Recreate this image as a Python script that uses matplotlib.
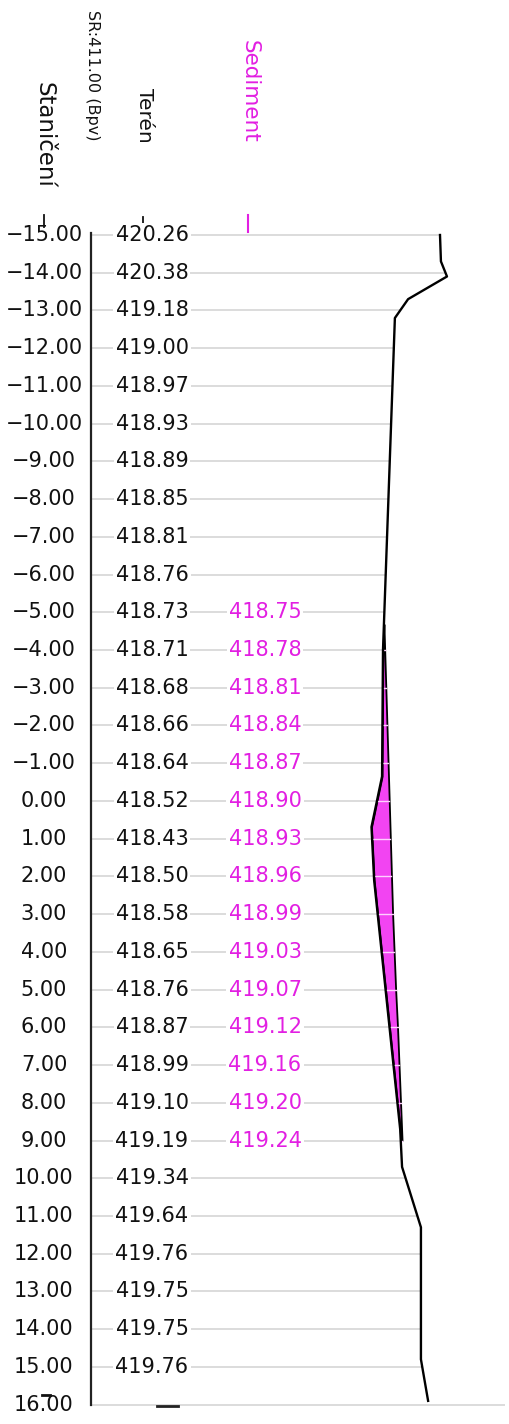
import numpy as np
import matplotlib
matplotlib.use("Agg")
import matplotlib.pyplot as plt
from matplotlib import font_manager

# ---------------- data ----------------
stations = list(range(-15, 17))
terrain_labels = [420.26, 420.38, 419.18, 419.00, 418.97, 418.93, 418.89, 418.85,
                  418.81, 418.76, 418.73, 418.71, 418.68, 418.66, 418.64, 418.52,
                  418.43, 418.50, 418.58, 418.65, 418.76, 418.87, 418.99, 419.10,
                  419.19, 419.34, 419.64, 419.76, 419.75, 419.75, 419.76]  # -15 .. 15

# detailed terrain profile (station, elevation)
profile_station = [-15.0, -14.3, -13.9, -13.3, -12.8, -4.0, -0.65, 0.69, 2.1, 8.7,
                   9.7, 11.3, 14.8, 15.9]
profile_elev = [420.245, 420.27, 420.43, 419.40, 419.05, 418.735, 418.71, 418.43,
                418.50, 419.19, 419.24, 419.74, 419.74, 419.93]

sed_stations = list(range(-5, 10))
sed_elev = [418.75, 418.78, 418.81, 418.84, 418.87, 418.90, 418.93, 418.96,
            418.99, 419.03, 419.07, 419.12, 419.16, 419.20, 419.24]

datum = 411.00
header_station = "Staničení"
header_datum = "SR:411.00 (Bpv)"
header_terrain = "Terén"
header_sed = "Sediment"

# ---------------- layout helpers (pixel -> data) ----------------
W, H = 509, 1424
PX_X0, SX = 91.0, 37.75     # pixel of datum, pixels per metre
PX_Y0, SY = 235.0, 37.73    # pixel of station -15, pixels per station unit


def px_x(p):
    return datum + (p - PX_X0) / SX


def px_y(p):
    return -15 + (p - PX_Y0) / SY


MAG_FILL = "#f244f2"
MAG_TEXT = "#e21fe2"
GRID = "#d9d9d9"

names = {f.name for f in font_manager.fontManager.ttflist}
if "Liberation Sans Narrow" in names:
    sr_family, sr_size = "Liberation Sans Narrow", 15
else:
    sr_family, sr_size = "DejaVu Sans", 11.5

fig = plt.figure(figsize=(W / 100, H / 100), dpi=100)
ax = fig.add_axes([0, 0, 1, 1])
ax.set_xlim(px_x(0), px_x(W))
ax.set_ylim(px_y(H), px_y(0))
ax.axis("off")

ps = np.array(profile_station)
pe = np.array(profile_elev)

# grid lines from datum to terrain (or sediment surface)
for s in stations:
    if s == 16:
        xend = px_x(505)
    else:
        xend = np.interp(s, ps, pe)
        if s in sed_stations:
            xend = max(xend, sed_elev[sed_stations.index(s)])
    ax.plot([datum, xend], [s, s], color=GRID, lw=1.3, zorder=1,
            solid_capstyle="butt")

# sediment fill
yy = np.linspace(-5, 9, 600)
t_i = np.interp(yy, ps, pe)
s_i = np.interp(yy, sed_stations, sed_elev)
ax.fill_betweenx(yy, t_i, s_i, where=s_i > t_i, interpolate=True,
                 facecolor=MAG_FILL, edgecolor="black", linewidth=1.3, zorder=2)
for s, e in zip(sed_stations, sed_elev):
    t = np.interp(s, ps, pe)
    if e > t:
        ax.plot([t, e], [s, s], color="#ffd0ff", lw=1.0, zorder=2.5)

# terrain line
ax.plot(profile_elev, profile_station, color="black", lw=1.7, zorder=3)

# vertical axis line
ax.plot([datum, datum], [px_y(233), 16], color="#222222", lw=1.6, zorder=3)

# station labels
for s in stations:
    lab = f"{s:.2f}".replace("-", "\u2212")
    ax.text(px_x(44), s, lab, ha="center", va="center", fontsize=15, color="#111111",
            zorder=4)

# terrain labels
for s, v in zip(stations, terrain_labels):
    ax.text(px_x(152), s, f"{v:.2f}", ha="center", va="center", fontsize=15,
            color="#111111", zorder=4,
            bbox=dict(facecolor="white", edgecolor="none", pad=1.5))

# sediment labels
for s, v in zip(sed_stations, sed_elev):
    ax.text(px_x(265), s, f"{v:.2f}", ha="center", va="center", fontsize=15,
            color=MAG_TEXT, zorder=4,
            bbox=dict(facecolor="white", edgecolor="none", pad=1.5))

# headers (rotated, reading downward)
ax.text(px_x(44), px_y(188), header_station, rotation=270, ha="center", va="bottom",
        fontsize=16.5, color="#111111")
ax.text(px_x(92), px_y(141), header_datum, rotation=270, ha="center", va="bottom",
        fontsize=sr_size, family=sr_family, color="#111111")
ax.text(px_x(144), px_y(143), header_terrain, rotation=270, ha="center", va="bottom",
        fontsize=14.5, color="#111111")
ax.text(px_x(250), px_y(143), header_sed, rotation=270, ha="center", va="bottom",
        fontsize=15.5, color=MAG_TEXT)

# small tick marks under headers
ax.plot([px_x(44), px_x(44)], [px_y(215), px_y(227)], color="#111111", lw=1.3)
ax.plot([px_x(143), px_x(143)], [px_y(217), px_y(227)], color="#111111", lw=1.3)
ax.plot([px_x(248), px_x(248)], [px_y(215), px_y(232)], color=MAG_TEXT, lw=1.5)

# bottom markers
ax.plot([px_x(42), px_x(50)], [px_y(1395), px_y(1395)], color="#111111", lw=2)
ax.plot([px_x(157), px_x(178)], [px_y(1406), px_y(1406)], color="#222222", lw=2)

fig.savefig("out.png", dpi=100, facecolor="white")
